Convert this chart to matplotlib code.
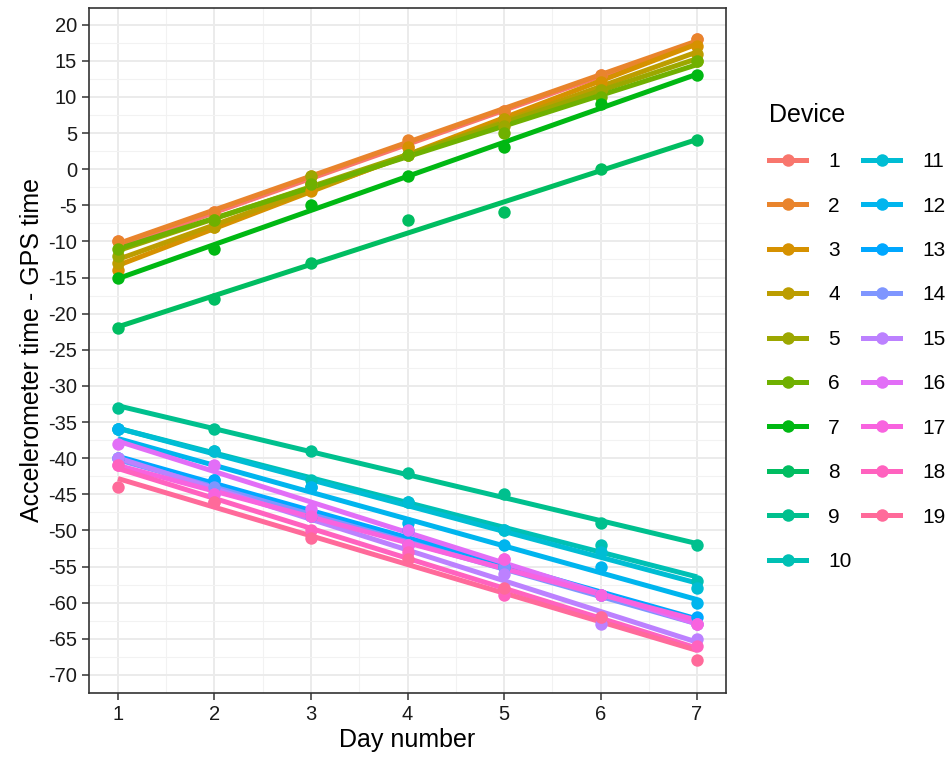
import numpy as np
import matplotlib
matplotlib.use("Agg")
import matplotlib.pyplot as plt
from matplotlib.lines import Line2D

plt.rcParams['font.family'] = ['Liberation Sans', 'DejaVu Sans']
plt.rcParams['axes.unicode_minus'] = False

days = [1, 2, 3, 4, 5, 6, 7]
devices = [str(i) for i in range(1, 20)]

# accelerometer time - GPS time, one list per device (days 1..7)
offsets = [
    [-10, -6, -2, 3, 8, 13, 18],
    [-10, -6, -1, 4, 8, 13, 18],
    [-14, -8, -3, 3, 7, 12, 17],
    [-13, -8, -2, 2, 7, 11, 16],
    [-12, -7, -1, 2, 6, 11, 15],
    [-11, -7, -2, 2, 5, 10, 15],
    [-15, -11, -5, -1, 3, 9, 13],
    [-22, -18, -13, -7, -6, 0, 4],
    [-33, -36, -39, -42, -45, -49, -52],
    [-36, -39, -43, -46, -50, -52, -57],
    [-36, -39, -44, -46, -50, -53, -58],
    [-36, -43, -44, -49, -52, -55, -60],
    [-40, -43, -48, -50, -55, -59, -62],
    [-40, -44, -48, -52, -55, -59, -63],
    [-40, -45, -48, -52, -56, -63, -65],
    [-38, -41, -47, -50, -54, -59, -63],
    [-41, -45, -48, -52, -54, -59, -63],
    [-41, -46, -50, -53, -59, -62, -66],
    [-44, -46, -51, -54, -58, -62, -68],
]


def hue_pal(n, c=100.0, l=65.0):
    # ggplot2 default discrete palette (HCL hues 15..375)
    hues = np.linspace(15, 375, n + 1)[:n]
    xn, yn, zn = 95.047, 100.0, 108.883
    un = 4 * xn / (xn + 15 * yn + 3 * zn)
    vn = 9 * yn / (xn + 15 * yn + 3 * zn)
    m = np.array([[3.2404542, -1.5371385, -0.4985314],
                  [-0.9692660, 1.8760108, 0.0415560],
                  [0.0556434, -0.2040259, 1.0572252]])
    out = []
    for h in hues:
        u = c * np.cos(np.radians(h))
        v = c * np.sin(np.radians(h))
        Y = yn * ((l + 16) / 116) ** 3
        up = u / (13 * l) + un
        vp = v / (13 * l) + vn
        X = 9 * Y * up / (4 * vp)
        Z = Y * (12 - 3 * up - 20 * vp) / (4 * vp)
        rgb = m @ (np.array([X, Y, Z]) / 100)
        rgb = np.where(rgb <= 0.0031308, 12.92 * rgb,
                       1.055 * np.clip(rgb, 0, None) ** (1 / 2.4) - 0.055)
        out.append(tuple(np.clip(rgb, 0, 1)))
    return out


colors = hue_pal(len(devices))

fig = plt.figure(figsize=(9.48, 7.62), dpi=100)
ax = fig.add_axes([89 / 948, 1 - 693 / 762, 637 / 948, 685 / 762])

x = np.array(days, dtype=float)
for dev, y, col in zip(devices, offsets, colors):
    y = np.array(y, dtype=float)
    k, b = np.polyfit(x, y, 1)
    ax.plot(x, k * x + b, color=col, lw=3.6, solid_capstyle='butt', zorder=3)
    ax.scatter(x, y, color=col, s=80, zorder=4, linewidths=0)

ax.set_xlim(0.7, 7.3)
ax.set_ylim(-72.3, 22.3)
ax.set_xticks(days)
ax.set_yticks(np.arange(-70, 21, 5))
ax.set_xticks(np.arange(1.5, 7, 1), minor=True)
ax.set_yticks(np.arange(-72.5, 22.5, 5), minor=True)
ax.grid(True, which='major', color='#EBEBEB', lw=1.4, zorder=0)
ax.grid(True, which='minor', color='#F2F2F2', lw=0.8, zorder=0)
ax.set_axisbelow(True)
for s in ax.spines.values():
    s.set_color('#333333')
    s.set_linewidth(1.2)
ax.tick_params(which='major', length=5, color='#333333', width=1.1,
               labelsize=14.5, labelcolor='#1a1a1a')
ax.tick_params(which='minor', length=0)

ax.set_xlabel('Day number', fontsize=18, labelpad=3)
ax.set_ylabel('Accelerometer time - GPS time', fontsize=18, labelpad=3)

handles = [Line2D([0], [0], color=c, lw=3.6, marker='o', markersize=9,
                  markeredgewidth=0) for c in colors]
leg = fig.legend(handles, devices, title='Device', ncol=2, frameon=False,
                 loc='upper left', bbox_to_anchor=(750 / 948, 1 - 84 / 762),
                 fontsize=15, title_fontsize=18, handlelength=1.8,
                 labelspacing=1.22, columnspacing=0.55, handletextpad=1.05)
leg._legend_box.align = 'left'

fig.savefig('out.png', dpi=100)
